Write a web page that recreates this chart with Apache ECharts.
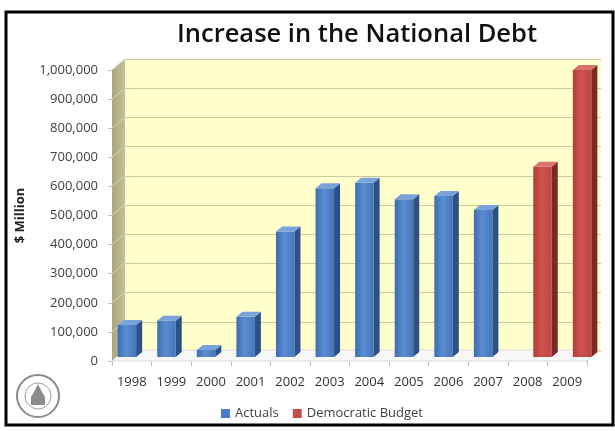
<!DOCTYPE html>
<html>
<head>
<meta charset="utf-8">
<script src="https://cdn.jsdelivr.net/npm/echarts@6/dist/echarts.min.js"></script>
<style>
html,body{margin:0;padding:0;background:#fff;}
#chart{width:615px;height:431px;}
</style>
</head>
<body>
<div id="chart"></div>
<script>
const categories = ['1998','1999','2000','2001','2002','2003','2004','2005','2006','2007','2008','2009'];
const actuals = [110000,125000,24000,138000,431000,580000,599000,542000,553000,505000,null,null];
const democratic = [null,null,null,null,null,null,null,null,null,null,654000,986000];
const yMin = 0, yMax = 1000000, yStep = 100000;
const seriesNames = ['Actuals','Democratic Budget'];

const FONT = '"Open Sans", "DejaVu Sans", sans-serif';
const WALL_D = [13, -11];
const BAR_OFF = [5, -4];
const BAR_D = [6, -5];
const BAR_W = 18.5;

const chart = echarts.init(document.getElementById('chart'), null, {renderer:'canvas'});

function toPairs(arr){ const out=[]; arr.forEach((v,i)=>{ if(v!==null) out.push([i,v]); }); return out; }

const ticks = [];
for (let t = yMin; t <= yMax; t += yStep) ticks.push(t);

function wallsRender(params, api){
  const c0 = api.coord([0, 0]);
  const band = api.size([1, 0])[0];
  const xL = c0[0] - band/2;
  const xR = xL + band * categories.length;
  const y0 = c0[1];
  const y1 = api.coord([0, yMax])[1];
  const [dx, dy] = WALL_D;
  const children = [];
  children.push({type:'polygon', shape:{points:[[xL,y0],[xL,y1],[xL+dx,y1+dy],[xL+dx,y0+dy]]},
    style:{fill:new echarts.graphic.LinearGradient(0,0,1,0,[{offset:0,color:'#A9A67E'},{offset:1,color:'#C4C19A'}])}});
  ticks.forEach(t=>{
    const y = api.coord([0,t])[1];
    children.push({type:'line', shape:{x1:xL,y1:y,x2:xL+dx,y2:y+dy}, style:{stroke:'#D8D5B4',lineWidth:1}});
  });
  children.push({type:'polygon', shape:{points:[[xL,y0],[xR,y0],[xR+dx,y0+dy],[xL+dx,y0+dy]]},
    style:{fill:'#F7F7F7', stroke:'#D9D9D9', lineWidth:1}});
  return {type:'group', children};
}

function barRender(slot, colors){
  return function(params, api){
    const i = api.value(0), v = api.value(1);
    const base = api.coord([i, 0]);
    const top = api.coord([i, v]);
    const band = api.size([1, 0])[0];
    const cx = base[0] + (slot === 0 ? -band/4 : band/4) + BAR_OFF[0];
    const x0 = cx - BAR_W/2, x1 = cx + BAR_W/2;
    const yb = base[1] + BAR_OFF[1], yt = top[1] + BAR_OFF[1];
    const [dx, dy] = BAR_D;
    return {type:'group', children:[
      {type:'rect', shape:{x:x0,y:yt,width:BAR_W,height:yb-yt},
        style:{fill:new echarts.graphic.LinearGradient(0,0,1,0,[
          {offset:0,color:colors.f0},{offset:0.45,color:colors.f1},{offset:1,color:colors.f2}])}},
      {type:'polygon', shape:{points:[[x1,yb],[x1,yt],[x1+dx,yt+dy],[x1+dx,yb+dy]]}, style:{fill:colors.side}},
      {type:'polygon', shape:{points:[[x0,yt],[x1,yt],[x1+dx,yt+dy],[x0+dx,yt+dy]]}, style:{fill:colors.top}}
    ]};
  };
}

const blue = {f0:'#3E6DAE', f1:'#5A8DD3', f2:'#4576BC', side:'#2C5186', top:'#7AA3DC'};
const red  = {f0:'#B13E3B', f1:'#D0534F', f2:'#BF4643', side:'#7E2826', top:'#D9716D'};

const option = {
  backgroundColor:'#ffffff',
  animation:false,
  title:{text:'Increase in the National Debt', left:352, top:17, textAlign:'center',
    textStyle:{fontFamily:FONT, fontWeight:600, fontSize:25.5, color:'#111'}},
  legend:{data:[{name:seriesNames[0], icon:'rect', itemStyle:{color:'#4A7EC4'}},{name:seriesNames[1], icon:'rect', itemStyle:{color:'#C0504D'}}],
    left:216, top:402, itemWidth:9, itemHeight:9, itemGap:14,
    textStyle:{fontFamily:FONT, fontSize:13, color:'#404040'}},
  grid:[
    {left:112, right:28, top:70, bottom:70},
    {left:125, right:14, top:59, bottom:80, show:true, backgroundColor:'#FFFFCC', borderWidth:0}
  ],
  xAxis:[
    {type:'category', gridIndex:0, data:categories,
      axisLine:{show:false},
      axisTick:{show:true, length:5, lineStyle:{color:'#BFBFBF'}},
      axisLabel:{interval:0, hideOverlap:false, fontFamily:FONT, fontSize:13, color:'#333', margin:15}},
    {type:'category', gridIndex:1, data:categories, show:false}
  ],
  yAxis:[
    {type:'value', gridIndex:0, min:yMin, max:yMax, interval:yStep,
      name:'$ Million', nameLocation:'middle', nameGap:85,
      nameTextStyle:{fontFamily:FONT, fontWeight:'bold', fontSize:13, color:'#222'},
      axisLine:{show:true, lineStyle:{color:'#BFBFBF'}},
      axisTick:{show:true, length:4, lineStyle:{color:'#BFBFBF'}},
      splitLine:{show:false},
      axisLabel:{fontFamily:FONT, fontSize:13, color:'#404040', margin:14,
        formatter:v=>v.toLocaleString('en-US')}},
    {type:'value', gridIndex:1, min:yMin, max:yMax, interval:yStep,
      axisLine:{show:false}, axisTick:{show:false}, axisLabel:{show:false},
      splitLine:{show:true, lineStyle:{color:'#CDC99C', width:1}}}
  ],
  graphic:[
    {type:'rect', shape:{x:6,y:12,width:607,height:413}, style:{fill:'none', stroke:'#000', lineWidth:3}, z:100},
    {type:'circle', shape:{cx:38,cy:396,r:21}, style:{fill:'#fff', stroke:'#8A8A8A', lineWidth:2}, z:50},
    {type:'circle', shape:{cx:38,cy:396,r:13}, style:{fill:'none', stroke:'#A0A0A0', lineWidth:1}, z:50},
    {type:'polygon', shape:{points:[[31,405],[31,397],[34,392],[38,384],[42,392],[45,397],[45,405]]}, style:{fill:'#8C8C8C'}, z:51}
  ],
  series:[
    {type:'custom', name:'walls', xAxisIndex:0, yAxisIndex:0, data:[[0,0]], renderItem:wallsRender, clip:false, silent:true, z:1, legendHoverLink:false},
    {type:'custom', name:seriesNames[0], xAxisIndex:0, yAxisIndex:0, data:toPairs(actuals), encode:{x:0,y:1},
      renderItem:barRender(0, blue), itemStyle:{color:'#4A7EC4'}, clip:false, z:3},
    {type:'custom', name:seriesNames[1], xAxisIndex:0, yAxisIndex:0, data:toPairs(democratic), encode:{x:0,y:1},
      renderItem:barRender(1, red), itemStyle:{color:'#C0504D'}, clip:false, z:3}
  ]
};
chart.setOption(option);
</script>
</body>
</html>
